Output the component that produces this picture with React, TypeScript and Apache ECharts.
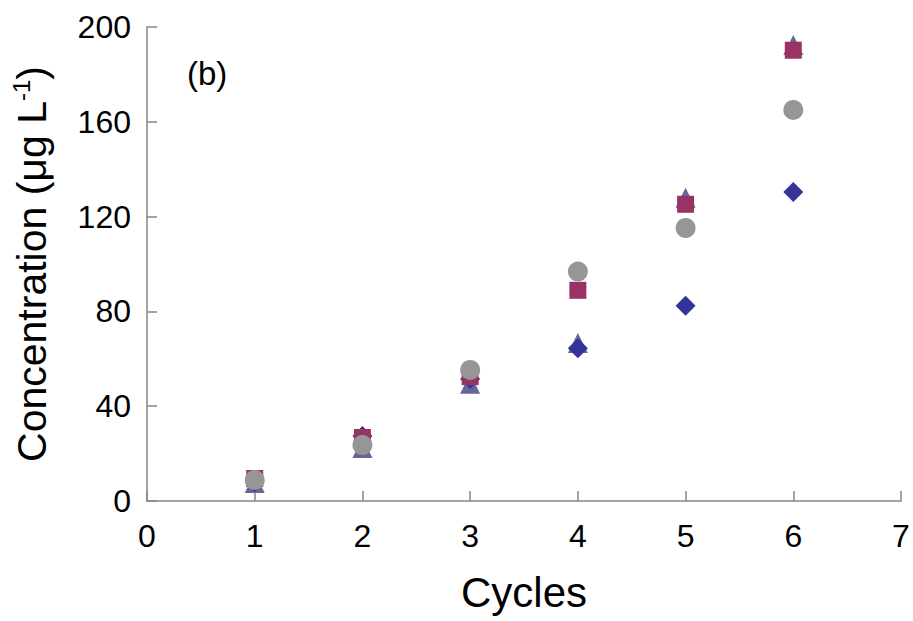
import React, { useEffect, useRef } from "react";
import * as echarts from "echarts";

const cycles = [1, 2, 3, 4, 5, 6];
const diamondValues = [8, 27.4, 51.5, 64.4, 82.4, 130.4];
const triangleValues = [7.6, 22.4, 49.5, 66.7, 128, 192.4];
const squareValues = [9.5, 26.8, 52.5, 88.9, 125.2, 190.2];
const circleValues = [8.9, 23.6, 55.3, 96.8, 115.2, 165];

const panelLabel = "(b)";
const xTitle = "Cycles";

const FONT = "'Liberation Sans', Arial, sans-serif";

function pairs(values: number[]) {
  return cycles.map((c, i) => [c, values[i]]);
}

export default function App() {
  const ref = useRef<HTMLDivElement>(null);
  useEffect(() => {
    if (!ref.current) return;
    const chart = echarts.init(ref.current, null, { renderer: "svg" });
    const axisColor = "#868686";
    chart.setOption({
      animation: false,
      backgroundColor: "#ffffff",
      textStyle: { fontFamily: FONT },
      grid: { left: 147, right: 12, top: 27, bottom: 120 },
      xAxis: {
        type: "value",
        min: 0,
        max: 7,
        interval: 1,
        name: xTitle,
        nameLocation: "middle",
        nameGap: 70,
        nameTextStyle: { fontSize: 42, color: "#000", fontFamily: FONT },
        axisLine: { show: true, lineStyle: { color: axisColor, width: 1.5 } },
        axisTick: { show: true, inside: true, length: 10, lineStyle: { color: axisColor, width: 1.5 } },
        axisLabel: { fontSize: 32, color: "#000", margin: 19, fontFamily: FONT },
        splitLine: { show: false },
      },
      yAxis: {
        type: "value",
        min: 0,
        max: 200,
        interval: 40,
        name: "{a|Concentration (μg L}{sup|-1}{a|)}",
        nameLocation: "middle",
        nameGap: 92,
        nameRotate: 90,
        nameTextStyle: {
          color: "#000",
          fontFamily: FONT,
          rich: {
            a: { fontSize: 41, lineHeight: 46, color: "#000", fontFamily: FONT },
            sup: { fontSize: 24, lineHeight: 46, verticalAlign: "top", color: "#000", fontFamily: FONT, padding: [0, 0, 18, 0] },
          },
        },
        axisLine: { show: true, lineStyle: { color: axisColor, width: 1.5 } },
        axisTick: { show: true, inside: true, length: 10, lineStyle: { color: axisColor, width: 1.5 } },
        axisLabel: { fontSize: 32, color: "#000", margin: 16, fontFamily: FONT },
        splitLine: { show: false },
      },
      graphic: [
        {
          type: "text",
          left: 187,
          top: 57,
          style: { text: panelLabel, fontSize: 33, fill: "#000", fontFamily: FONT },
        },
      ],
      series: [
        {
          type: "scatter",
          name: "triangle",
          symbol: "triangle",
          symbolSize: 20,
          itemStyle: { color: "#666699", opacity: 1 },
          data: pairs(triangleValues),
          z: 2,
        },
        {
          type: "scatter",
          name: "diamond",
          symbol: "diamond",
          symbolSize: 20,
          itemStyle: { color: "#333399", opacity: 1 },
          data: pairs(diamondValues),
          z: 3,
        },
        {
          type: "scatter",
          name: "square",
          symbol: "rect",
          symbolSize: 17,
          itemStyle: { color: "#993366", opacity: 1 },
          data: pairs(squareValues),
          z: 4,
        },
        {
          type: "scatter",
          name: "circle",
          symbol: "circle",
          symbolSize: 20,
          itemStyle: { color: "#969696", opacity: 1 },
          data: pairs(circleValues),
          z: 5,
        },
      ],
    });
    return () => chart.dispose();
  }, []);
  return <div ref={ref} style={{ width: 913, height: 621, position: "absolute", left: 0, top: 0 }} />;
}
